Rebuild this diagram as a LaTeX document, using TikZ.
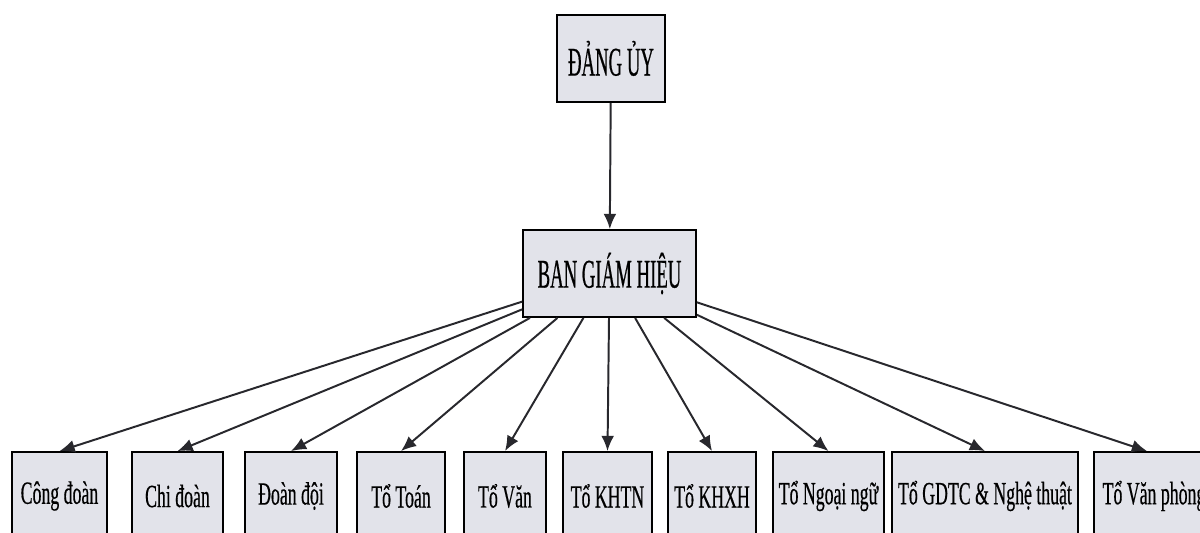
\documentclass[tikz,border=0pt]{standalone}
\usepackage{fontspec}
\setmainfont{Liberation Serif}[FakeStretch=0.55, FakeBold=0.4]
\newfontfamily\headfont{Liberation Serif}[FakeStretch=0.46, FakeBold=0.4]
\usetikzlibrary{arrows.meta}
\definecolor{boxfill}{RGB}{226,227,234}
\definecolor{linegray}{RGB}{40,40,45}

\begin{document}
\begin{tikzpicture}[
  unit/.style={draw=black, line width=1.3pt, fill=boxfill, inner sep=0pt, minimum height=2.2cm, font=\fontsize{23}{26}\selectfont},
  head/.style={unit, minimum height=2.175cm, font=\headfont\fontsize{29}{32}\selectfont},
  link/.style={-{Latex[length=3.8mm,width=3.2mm]}, line width=1.4pt, color=linegray}
]
\path[use as bounding box, clip] (0,0) rectangle (30,13.3);

\node[head, minimum width=2.7cm] (DU) at (15.275,11.84) {ĐẢNG ỦY};
\node[head, minimum width=4.325cm] (BGH) at (15.2375,6.4625) {BAN GIÁM HIỆU};

\node[unit, minimum width=2.375cm] (CD) at (1.4875,0.9) {Công đoàn};
\node[unit, minimum width=2.275cm] (CH) at (4.4375,0.9) {Chi đoàn};
\node[unit, minimum width=2.3cm] (DD) at (7.275,0.9) {Đoàn đội};
\node[unit, minimum width=2.2cm] (TT) at (10.025,0.9) {Tổ Toán};
\node[unit, minimum width=2.05cm] (TV) at (12.625,0.9) {Tổ Văn};
\node[unit, minimum width=2.225cm] (TN) at (15.1875,0.9) {Tổ KHTN};
\node[unit, minimum width=2.2cm] (XH) at (17.8,0.9) {Tổ KHXH};
\node[unit, minimum width=2.775cm] (NN) at (20.7125,0.9) {Tổ Ngoại ngữ};
\node[unit, minimum width=4.65cm] (GD) at (24.625,0.9) {Tổ GDTC \& Nghệ thuật};
\node[unit, minimum width=3.0cm] (VP) at (28.85,0.9) {Tổ Văn phòng};

\path[link] (DU) edge (BGH);

\path[link] (BGH) edge (CD.north);
\path[link] (BGH) edge (CH.north);
\path[link] (BGH) edge (DD.north);
\path[link] (BGH) edge (TT.north);
\path[link] (BGH) edge (TV.north);
\path[link] (BGH) edge (TN.north);
\path[link] (BGH) edge (XH.north);
\path[link] (BGH) edge (NN.north);
\path[link] (BGH) edge (GD.north);
\path[link] (BGH) edge ([xshift=-0.175cm]VP.north);

\end{tikzpicture}
\end{document}
